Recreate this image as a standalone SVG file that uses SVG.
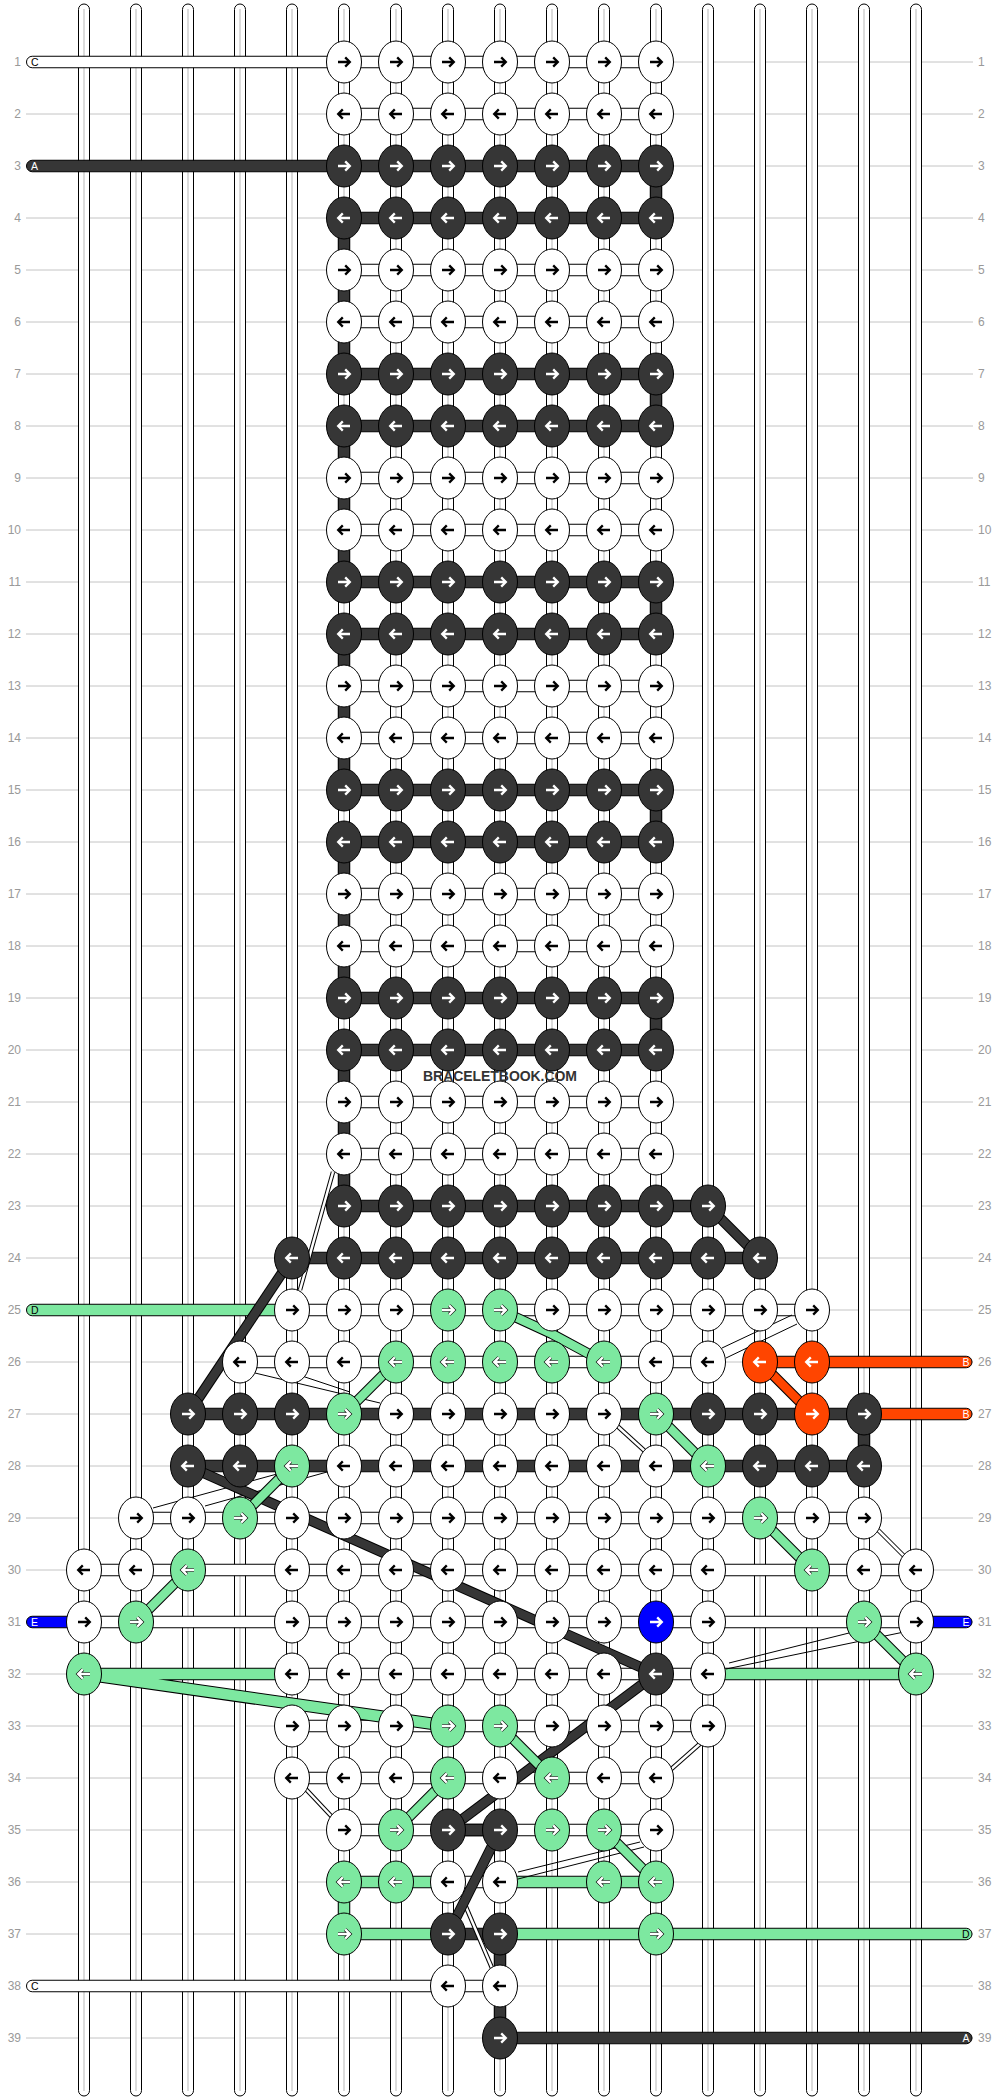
<svg xmlns="http://www.w3.org/2000/svg" width="1000" height="2100" viewBox="0 0 1000 2100">
<style>
.gl{stroke:#c4c4c4;stroke-width:1}
.s{fill:#fff;stroke:#000;stroke-width:1}
.sg{stroke:#c8c8c8;stroke-width:1.3}
.t{stroke:#000;stroke-width:1}
.w{fill:#fff}.d{fill:#363636}.gr{fill:#7de8a0}.o{fill:#ff4500}.b{fill:#0000ff}
.xo{stroke:#000;stroke-width:10.5;fill:none}
.xd{stroke:#363636;stroke-width:8.5;fill:none}
.xg{stroke:#7de8a0;stroke-width:8.5;fill:none}
.xr{stroke:#ff4500;stroke-width:8.5;fill:none}
.po{stroke:#000;stroke-width:12.5;fill:none;stroke-linejoin:round}
.pg{stroke:#7de8a0;stroke-width:10.5;fill:none;stroke-linejoin:round}
.thin{stroke:#000;stroke-width:1;fill:none}
.so{stroke:#000;stroke-width:4.5}
.sw{stroke:#fff;stroke-width:2.5}
.n{font-family:"Liberation Sans",Arial,sans-serif;font-size:12px;fill:#999}
.lab{font-family:"Liberation Sans",Arial,sans-serif;font-size:10.5px}
.wm{font-family:"Liberation Sans",Arial,sans-serif;font-size:14px;font-weight:bold;fill:#333}
</style>
<defs>
<path id="ar" d="M-6,0H5M1.2,-4.6L5.8,0L1.2,4.6" fill="none"/>
<path id="al" d="M6,0H-5M-1.2,-4.6L-5.8,0L-1.2,4.6" fill="none"/>
<g id="wR"><ellipse rx="17.5" ry="21" fill="#fff" stroke="#000"/><use href="#ar" stroke="#000" stroke-width="2.3"/></g>
<g id="wL"><ellipse rx="17.5" ry="21" fill="#fff" stroke="#000"/><use href="#al" stroke="#000" stroke-width="2.3"/></g>
<g id="dR"><ellipse rx="17.5" ry="21" fill="#363636" stroke="#000"/><use href="#ar" stroke="#fff" stroke-width="2.3"/></g>
<g id="dL"><ellipse rx="17.5" ry="21" fill="#363636" stroke="#000"/><use href="#al" stroke="#fff" stroke-width="2.3"/></g>
<g id="gR"><ellipse rx="17.5" ry="21" fill="#7de8a0" stroke="#000"/><use href="#ar" stroke="#000" stroke-width="3.6"/><use href="#ar" stroke="#fff" stroke-width="2.4"/></g>
<g id="gL"><ellipse rx="17.5" ry="21" fill="#7de8a0" stroke="#000"/><use href="#al" stroke="#000" stroke-width="3.6"/><use href="#al" stroke="#fff" stroke-width="2.4"/></g>
<g id="oR"><ellipse rx="17.5" ry="21" fill="#ff4500" stroke="#000"/><use href="#ar" stroke="#fff" stroke-width="2.3"/></g>
<g id="oL"><ellipse rx="17.5" ry="21" fill="#ff4500" stroke="#000"/><use href="#al" stroke="#fff" stroke-width="2.3"/></g>
<g id="bR"><ellipse rx="17.5" ry="21" fill="#0000ff" stroke="#000"/><use href="#ar" stroke="#fff" stroke-width="2.3"/></g>
</defs>
<rect width="1000" height="2100" fill="#fff"/>
<g id="grid">
<line class="gl" x1="26" y1="62" x2="973" y2="62"/><line class="gl" x1="26" y1="114" x2="973" y2="114"/><line class="gl" x1="26" y1="166" x2="973" y2="166"/><line class="gl" x1="26" y1="218" x2="973" y2="218"/><line class="gl" x1="26" y1="270" x2="973" y2="270"/><line class="gl" x1="26" y1="322" x2="973" y2="322"/><line class="gl" x1="26" y1="374" x2="973" y2="374"/><line class="gl" x1="26" y1="426" x2="973" y2="426"/><line class="gl" x1="26" y1="478" x2="973" y2="478"/><line class="gl" x1="26" y1="530" x2="973" y2="530"/><line class="gl" x1="26" y1="582" x2="973" y2="582"/><line class="gl" x1="26" y1="634" x2="973" y2="634"/><line class="gl" x1="26" y1="686" x2="973" y2="686"/><line class="gl" x1="26" y1="738" x2="973" y2="738"/><line class="gl" x1="26" y1="790" x2="973" y2="790"/><line class="gl" x1="26" y1="842" x2="973" y2="842"/><line class="gl" x1="26" y1="894" x2="973" y2="894"/><line class="gl" x1="26" y1="946" x2="973" y2="946"/><line class="gl" x1="26" y1="998" x2="973" y2="998"/><line class="gl" x1="26" y1="1050" x2="973" y2="1050"/><line class="gl" x1="26" y1="1102" x2="973" y2="1102"/><line class="gl" x1="26" y1="1154" x2="973" y2="1154"/><line class="gl" x1="26" y1="1206" x2="973" y2="1206"/><line class="gl" x1="26" y1="1258" x2="973" y2="1258"/><line class="gl" x1="26" y1="1310" x2="973" y2="1310"/><line class="gl" x1="26" y1="1362" x2="973" y2="1362"/><line class="gl" x1="26" y1="1414" x2="973" y2="1414"/><line class="gl" x1="26" y1="1466" x2="973" y2="1466"/><line class="gl" x1="26" y1="1518" x2="973" y2="1518"/><line class="gl" x1="26" y1="1570" x2="973" y2="1570"/><line class="gl" x1="26" y1="1622" x2="973" y2="1622"/><line class="gl" x1="26" y1="1674" x2="973" y2="1674"/><line class="gl" x1="26" y1="1726" x2="973" y2="1726"/><line class="gl" x1="26" y1="1778" x2="973" y2="1778"/><line class="gl" x1="26" y1="1830" x2="973" y2="1830"/><line class="gl" x1="26" y1="1882" x2="973" y2="1882"/><line class="gl" x1="26" y1="1934" x2="973" y2="1934"/><line class="gl" x1="26" y1="1986" x2="973" y2="1986"/><line class="gl" x1="26" y1="2038" x2="973" y2="2038"/>
</g>
<g id="rownumbers" class="n">
<text x="21" y="66" text-anchor="end">1</text><text x="21" y="118" text-anchor="end">2</text><text x="21" y="170" text-anchor="end">3</text><text x="21" y="222" text-anchor="end">4</text><text x="21" y="274" text-anchor="end">5</text><text x="21" y="326" text-anchor="end">6</text><text x="21" y="378" text-anchor="end">7</text><text x="21" y="430" text-anchor="end">8</text><text x="21" y="482" text-anchor="end">9</text><text x="21" y="534" text-anchor="end">10</text><text x="21" y="586" text-anchor="end">11</text><text x="21" y="638" text-anchor="end">12</text><text x="21" y="690" text-anchor="end">13</text><text x="21" y="742" text-anchor="end">14</text><text x="21" y="794" text-anchor="end">15</text><text x="21" y="846" text-anchor="end">16</text><text x="21" y="898" text-anchor="end">17</text><text x="21" y="950" text-anchor="end">18</text><text x="21" y="1002" text-anchor="end">19</text><text x="21" y="1054" text-anchor="end">20</text><text x="21" y="1106" text-anchor="end">21</text><text x="21" y="1158" text-anchor="end">22</text><text x="21" y="1210" text-anchor="end">23</text><text x="21" y="1262" text-anchor="end">24</text><text x="21" y="1314" text-anchor="end">25</text><text x="21" y="1366" text-anchor="end">26</text><text x="21" y="1418" text-anchor="end">27</text><text x="21" y="1470" text-anchor="end">28</text><text x="21" y="1522" text-anchor="end">29</text><text x="21" y="1574" text-anchor="end">30</text><text x="21" y="1626" text-anchor="end">31</text><text x="21" y="1678" text-anchor="end">32</text><text x="21" y="1730" text-anchor="end">33</text><text x="21" y="1782" text-anchor="end">34</text><text x="21" y="1834" text-anchor="end">35</text><text x="21" y="1886" text-anchor="end">36</text><text x="21" y="1938" text-anchor="end">37</text><text x="21" y="1990" text-anchor="end">38</text><text x="21" y="2042" text-anchor="end">39</text>
<text x="978" y="66">1</text><text x="978" y="118">2</text><text x="978" y="170">3</text><text x="978" y="222">4</text><text x="978" y="274">5</text><text x="978" y="326">6</text><text x="978" y="378">7</text><text x="978" y="430">8</text><text x="978" y="482">9</text><text x="978" y="534">10</text><text x="978" y="586">11</text><text x="978" y="638">12</text><text x="978" y="690">13</text><text x="978" y="742">14</text><text x="978" y="794">15</text><text x="978" y="846">16</text><text x="978" y="898">17</text><text x="978" y="950">18</text><text x="978" y="1002">19</text><text x="978" y="1054">20</text><text x="978" y="1106">21</text><text x="978" y="1158">22</text><text x="978" y="1210">23</text><text x="978" y="1262">24</text><text x="978" y="1314">25</text><text x="978" y="1366">26</text><text x="978" y="1418">27</text><text x="978" y="1470">28</text><text x="978" y="1522">29</text><text x="978" y="1574">30</text><text x="978" y="1626">31</text><text x="978" y="1678">32</text><text x="978" y="1730">33</text><text x="978" y="1782">34</text><text x="978" y="1834">35</text><text x="978" y="1886">36</text><text x="978" y="1938">37</text><text x="978" y="1990">38</text><text x="978" y="2042">39</text>
</g>
<g id="strands">
<rect class="s" x="78.5" y="4" width="11" height="2092" rx="5.5"/><line class="sg" x1="84" y1="9" x2="84" y2="2091"/>
<rect class="s" x="130.5" y="4" width="11" height="2092" rx="5.5"/><line class="sg" x1="136" y1="9" x2="136" y2="2091"/>
<rect class="s" x="182.5" y="4" width="11" height="2092" rx="5.5"/><line class="sg" x1="188" y1="9" x2="188" y2="2091"/>
<rect class="s" x="234.5" y="4" width="11" height="2092" rx="5.5"/><line class="sg" x1="240" y1="9" x2="240" y2="2091"/>
<rect class="s" x="286.5" y="4" width="11" height="2092" rx="5.5"/><line class="sg" x1="292" y1="9" x2="292" y2="2091"/>
<rect class="s" x="338.5" y="4" width="11" height="2092" rx="5.5"/><line class="sg" x1="344" y1="9" x2="344" y2="2091"/>
<rect class="s" x="390.5" y="4" width="11" height="2092" rx="5.5"/><line class="sg" x1="396" y1="9" x2="396" y2="2091"/>
<rect class="s" x="442.5" y="4" width="11" height="2092" rx="5.5"/><line class="sg" x1="448" y1="9" x2="448" y2="2091"/>
<rect class="s" x="494.5" y="4" width="11" height="2092" rx="5.5"/><line class="sg" x1="500" y1="9" x2="500" y2="2091"/>
<rect class="s" x="546.5" y="4" width="11" height="2092" rx="5.5"/><line class="sg" x1="552" y1="9" x2="552" y2="2091"/>
<rect class="s" x="598.5" y="4" width="11" height="2092" rx="5.5"/><line class="sg" x1="604" y1="9" x2="604" y2="2091"/>
<rect class="s" x="650.5" y="4" width="11" height="2092" rx="5.5"/><line class="sg" x1="656" y1="9" x2="656" y2="2091"/>
<rect class="s" x="702.5" y="4" width="11" height="2092" rx="5.5"/><line class="sg" x1="708" y1="9" x2="708" y2="2091"/>
<rect class="s" x="754.5" y="4" width="11" height="2092" rx="5.5"/><line class="sg" x1="760" y1="9" x2="760" y2="2091"/>
<rect class="s" x="806.5" y="4" width="11" height="2092" rx="5.5"/><line class="sg" x1="812" y1="9" x2="812" y2="2091"/>
<rect class="s" x="858.5" y="4" width="11" height="2092" rx="5.5"/><line class="sg" x1="864" y1="9" x2="864" y2="2091"/>
<rect class="s" x="910.5" y="4" width="11" height="2092" rx="5.5"/><line class="sg" x1="916" y1="9" x2="916" y2="2091"/>
</g>
<g id="connectors">
<rect class="t w" x="26.5" y="56.25" width="629.5" height="11.5" rx="5.75"/>
<rect class="t w" x="344" y="108.25" width="312" height="11.5"/>
<rect class="t d" x="26.5" y="160.25" width="629.5" height="11.5" rx="5.75"/>
<rect class="t d" x="344" y="212.25" width="312" height="11.5"/>
<rect class="t w" x="344" y="264.25" width="312" height="11.5"/>
<rect class="t w" x="344" y="316.25" width="312" height="11.5"/>
<rect class="t d" x="344" y="368.25" width="312" height="11.5"/>
<rect class="t d" x="344" y="420.25" width="312" height="11.5"/>
<rect class="t w" x="344" y="472.25" width="312" height="11.5"/>
<rect class="t w" x="344" y="524.25" width="312" height="11.5"/>
<rect class="t d" x="344" y="576.25" width="312" height="11.5"/>
<rect class="t d" x="344" y="628.25" width="312" height="11.5"/>
<rect class="t w" x="344" y="680.25" width="312" height="11.5"/>
<rect class="t w" x="344" y="732.25" width="312" height="11.5"/>
<rect class="t d" x="344" y="784.25" width="312" height="11.5"/>
<rect class="t d" x="344" y="836.25" width="312" height="11.5"/>
<rect class="t w" x="344" y="888.25" width="312" height="11.5"/>
<rect class="t w" x="344" y="940.25" width="312" height="11.5"/>
<rect class="t d" x="344" y="992.25" width="312" height="11.5"/>
<rect class="t d" x="344" y="1044.25" width="312" height="11.5"/>
<rect class="t w" x="344" y="1096.25" width="312" height="11.5"/>
<rect class="t w" x="344" y="1148.25" width="312" height="11.5"/>
<rect class="t d" x="344" y="1200.25" width="364" height="11.5"/>
<rect class="t d" x="292" y="1252.25" width="468" height="11.5"/>
<rect class="t gr" x="26.5" y="1304.25" width="265.5" height="11.5" rx="5.75"/>
<rect class="t w" x="292" y="1304.25" width="520" height="11.5"/>
<rect class="t w" x="240" y="1356.25" width="468" height="11.5"/>
<rect class="t o" x="760" y="1356.25" width="212" height="11.5" rx="5.75"/>
<rect class="t d" x="188" y="1408.25" width="676" height="11.5"/>
<rect class="t o" x="864" y="1408.25" width="108" height="11.5" rx="5.75"/>
<rect class="t d" x="188" y="1460.25" width="676" height="11.5"/>
<rect class="t w" x="136" y="1512.25" width="728" height="11.5"/>
<rect class="t w" x="84" y="1564.25" width="832" height="11.5"/>
<rect class="t b" x="26.5" y="1616.25" width="57.5" height="11.5" rx="5.75"/>
<rect class="t w" x="84" y="1616.25" width="832" height="11.5"/>
<rect class="t b" x="916" y="1616.25" width="56" height="11.5" rx="5.75"/>
<rect class="t w" x="292" y="1668.25" width="416" height="11.5"/>
<rect class="t gr" x="708" y="1668.25" width="208" height="11.5"/>
<rect class="t w" x="292" y="1720.25" width="416" height="11.5"/>
<rect class="t w" x="292" y="1772.25" width="364" height="11.5"/>
<rect class="t w" x="344" y="1824.25" width="312" height="11.5"/>
<rect class="t d" x="448" y="1824.25" width="52" height="11.5"/>
<rect class="t gr" x="344" y="1876.25" width="104" height="11.5"/>
<rect class="t w" x="448" y="1876.25" width="52" height="11.5"/>
<rect class="t gr" x="500" y="1876.25" width="156" height="11.5"/>
<rect class="t gr" x="344" y="1928.25" width="104" height="11.5"/>
<rect class="t d" x="448" y="1928.25" width="52" height="11.5"/>
<rect class="t gr" x="500" y="1928.25" width="472" height="11.5" rx="5.75"/>
<rect class="t w" x="26.5" y="1980.25" width="473.5" height="11.5" rx="5.75"/>
<rect class="t d" x="500" y="2032.25" width="472" height="11.5" rx="5.75"/>
<rect class="t d" x="650.25" y="166" width="11.5" height="52"/>
<rect class="t d" x="650.25" y="374" width="11.5" height="52"/>
<rect class="t d" x="650.25" y="582" width="11.5" height="52"/>
<rect class="t d" x="650.25" y="790" width="11.5" height="52"/>
<rect class="t d" x="650.25" y="998" width="11.5" height="52"/>
<rect class="t d" x="338.25" y="218" width="11.5" height="156"/>
<rect class="t d" x="338.25" y="426" width="11.5" height="156"/>
<rect class="t d" x="338.25" y="634" width="11.5" height="156"/>
<rect class="t d" x="338.25" y="842" width="11.5" height="156"/>
<rect class="t d" x="338.25" y="1050" width="11.5" height="156"/>
<rect class="t d" x="858.25" y="1414" width="11.5" height="52"/>
<rect class="t gr" x="338.25" y="1882" width="11.5" height="52"/>
<rect class="t d" x="494.25" y="1934" width="11.5" height="104"/>
<path class="po" d="M292,1674H84L448,1726"/><path class="pg" d="M292,1674H84L448,1726"/>
<line class="so" x1="333" y1="1172" x2="300" y2="1290"/><line class="sw" x1="333" y1="1172" x2="300" y2="1290"/>
<line class="so" x1="614" y1="1423" x2="648" y2="1454"/><line class="sw" x1="614" y1="1423" x2="648" y2="1454"/>
<line class="so" x1="878" y1="1530" x2="904" y2="1556"/><line class="sw" x1="878" y1="1530" x2="904" y2="1556"/>
<line class="so" x1="302" y1="1785" x2="333" y2="1818"/><line class="sw" x1="302" y1="1785" x2="333" y2="1818"/>
<line class="so" x1="702" y1="1742" x2="668" y2="1772"/><line class="sw" x1="702" y1="1742" x2="668" y2="1772"/>
<line class="so" x1="463" y1="1900" x2="492" y2="1968"/><line class="sw" x1="463" y1="1900" x2="492" y2="1968"/>
<line class="thin" x1="792" y1="1315" x2="722" y2="1348"/><line class="thin" x1="797" y1="1324" x2="726" y2="1358"/>
<line class="thin" x1="255" y1="1373" x2="380" y2="1403"/><line class="thin" x1="275" y1="1367" x2="350" y2="1392"/>
<line class="thin" x1="153" y1="1508" x2="277" y2="1474"/><line class="thin" x1="205" y1="1506" x2="327" y2="1472"/>
<line class="thin" x1="729" y1="1663" x2="853" y2="1632"/><line class="thin" x1="726" y1="1669" x2="904" y2="1632"/>
<line class="thin" x1="640" y1="1842" x2="518" y2="1872"/><line class="thin" x1="644" y1="1847" x2="518" y2="1879"/>
<line class="xo" x1="708" y1="1206" x2="760" y2="1258"/><line class="xd" x1="708" y1="1206" x2="760" y2="1258"/>
<line class="xo" x1="292" y1="1258" x2="188" y2="1414"/><line class="xd" x1="292" y1="1258" x2="188" y2="1414"/>
<line class="xo" x1="188" y1="1466" x2="656" y2="1674"/><line class="xd" x1="188" y1="1466" x2="656" y2="1674"/>
<line class="xo" x1="656" y1="1674" x2="448" y2="1830"/><line class="xd" x1="656" y1="1674" x2="448" y2="1830"/>
<line class="xo" x1="500" y1="1830" x2="448" y2="1934"/><line class="xd" x1="500" y1="1830" x2="448" y2="1934"/>
<polyline class="xo" points="500,1310 552,1334 604,1362"/><polyline class="xg" points="500,1310 552,1334 604,1362"/>
<line class="xo" x1="396" y1="1362" x2="344" y2="1414"/><line class="xg" x1="396" y1="1362" x2="344" y2="1414"/>
<line class="xo" x1="656" y1="1414" x2="708" y2="1466"/><line class="xg" x1="656" y1="1414" x2="708" y2="1466"/>
<line class="xo" x1="292" y1="1466" x2="240" y2="1518"/><line class="xg" x1="292" y1="1466" x2="240" y2="1518"/>
<line class="xo" x1="760" y1="1518" x2="812" y2="1570"/><line class="xg" x1="760" y1="1518" x2="812" y2="1570"/>
<line class="xo" x1="188" y1="1570" x2="136" y2="1622"/><line class="xg" x1="188" y1="1570" x2="136" y2="1622"/>
<line class="xo" x1="864" y1="1622" x2="916" y2="1674"/><line class="xg" x1="864" y1="1622" x2="916" y2="1674"/>
<line class="xo" x1="500" y1="1726" x2="552" y2="1778"/><line class="xg" x1="500" y1="1726" x2="552" y2="1778"/>
<line class="xo" x1="448" y1="1778" x2="396" y2="1830"/><line class="xg" x1="448" y1="1778" x2="396" y2="1830"/>
<line class="xo" x1="604" y1="1830" x2="656" y2="1882"/><line class="xg" x1="604" y1="1830" x2="656" y2="1882"/>
<line class="xo" x1="760" y1="1362" x2="812" y2="1414"/><line class="xr" x1="760" y1="1362" x2="812" y2="1414"/>
</g>
<g id="threadlabels" class="lab">
<text x="31" y="66">C</text>
<text x="31" y="170" fill="#fff">A</text>
<text x="31" y="1314">D</text>
<text x="31" y="1626" fill="#fff">E</text>
<text x="31" y="1990">C</text>
<text x="969.5" y="1366" text-anchor="end" fill="#fff">B</text>
<text x="969.5" y="1418" text-anchor="end" fill="#fff">B</text>
<text x="969.5" y="1626" text-anchor="end" fill="#fff">E</text>
<text x="969.5" y="1938" text-anchor="end">D</text>
<text x="969.5" y="2042" text-anchor="end" fill="#fff">A</text>
</g>
<g id="knots">
<g id="n1_5"><use href="#wR" x="344" y="62"/></g><g id="n1_6"><use href="#wR" x="396" y="62"/></g><g id="n1_7"><use href="#wR" x="448" y="62"/></g><g id="n1_8"><use href="#wR" x="500" y="62"/></g><g id="n1_9"><use href="#wR" x="552" y="62"/></g><g id="n1_10"><use href="#wR" x="604" y="62"/></g><g id="n1_11"><use href="#wR" x="656" y="62"/></g>
<g id="n2_5"><use href="#wL" x="344" y="114"/></g><g id="n2_6"><use href="#wL" x="396" y="114"/></g><g id="n2_7"><use href="#wL" x="448" y="114"/></g><g id="n2_8"><use href="#wL" x="500" y="114"/></g><g id="n2_9"><use href="#wL" x="552" y="114"/></g><g id="n2_10"><use href="#wL" x="604" y="114"/></g><g id="n2_11"><use href="#wL" x="656" y="114"/></g>
<g id="n3_5"><use href="#dR" x="344" y="166"/></g><g id="n3_6"><use href="#dR" x="396" y="166"/></g><g id="n3_7"><use href="#dR" x="448" y="166"/></g><g id="n3_8"><use href="#dR" x="500" y="166"/></g><g id="n3_9"><use href="#dR" x="552" y="166"/></g><g id="n3_10"><use href="#dR" x="604" y="166"/></g><g id="n3_11"><use href="#dR" x="656" y="166"/></g>
<g id="n4_5"><use href="#dL" x="344" y="218"/></g><g id="n4_6"><use href="#dL" x="396" y="218"/></g><g id="n4_7"><use href="#dL" x="448" y="218"/></g><g id="n4_8"><use href="#dL" x="500" y="218"/></g><g id="n4_9"><use href="#dL" x="552" y="218"/></g><g id="n4_10"><use href="#dL" x="604" y="218"/></g><g id="n4_11"><use href="#dL" x="656" y="218"/></g>
<g id="n5_5"><use href="#wR" x="344" y="270"/></g><g id="n5_6"><use href="#wR" x="396" y="270"/></g><g id="n5_7"><use href="#wR" x="448" y="270"/></g><g id="n5_8"><use href="#wR" x="500" y="270"/></g><g id="n5_9"><use href="#wR" x="552" y="270"/></g><g id="n5_10"><use href="#wR" x="604" y="270"/></g><g id="n5_11"><use href="#wR" x="656" y="270"/></g>
<g id="n6_5"><use href="#wL" x="344" y="322"/></g><g id="n6_6"><use href="#wL" x="396" y="322"/></g><g id="n6_7"><use href="#wL" x="448" y="322"/></g><g id="n6_8"><use href="#wL" x="500" y="322"/></g><g id="n6_9"><use href="#wL" x="552" y="322"/></g><g id="n6_10"><use href="#wL" x="604" y="322"/></g><g id="n6_11"><use href="#wL" x="656" y="322"/></g>
<g id="n7_5"><use href="#dR" x="344" y="374"/></g><g id="n7_6"><use href="#dR" x="396" y="374"/></g><g id="n7_7"><use href="#dR" x="448" y="374"/></g><g id="n7_8"><use href="#dR" x="500" y="374"/></g><g id="n7_9"><use href="#dR" x="552" y="374"/></g><g id="n7_10"><use href="#dR" x="604" y="374"/></g><g id="n7_11"><use href="#dR" x="656" y="374"/></g>
<g id="n8_5"><use href="#dL" x="344" y="426"/></g><g id="n8_6"><use href="#dL" x="396" y="426"/></g><g id="n8_7"><use href="#dL" x="448" y="426"/></g><g id="n8_8"><use href="#dL" x="500" y="426"/></g><g id="n8_9"><use href="#dL" x="552" y="426"/></g><g id="n8_10"><use href="#dL" x="604" y="426"/></g><g id="n8_11"><use href="#dL" x="656" y="426"/></g>
<g id="n9_5"><use href="#wR" x="344" y="478"/></g><g id="n9_6"><use href="#wR" x="396" y="478"/></g><g id="n9_7"><use href="#wR" x="448" y="478"/></g><g id="n9_8"><use href="#wR" x="500" y="478"/></g><g id="n9_9"><use href="#wR" x="552" y="478"/></g><g id="n9_10"><use href="#wR" x="604" y="478"/></g><g id="n9_11"><use href="#wR" x="656" y="478"/></g>
<g id="n10_5"><use href="#wL" x="344" y="530"/></g><g id="n10_6"><use href="#wL" x="396" y="530"/></g><g id="n10_7"><use href="#wL" x="448" y="530"/></g><g id="n10_8"><use href="#wL" x="500" y="530"/></g><g id="n10_9"><use href="#wL" x="552" y="530"/></g><g id="n10_10"><use href="#wL" x="604" y="530"/></g><g id="n10_11"><use href="#wL" x="656" y="530"/></g>
<g id="n11_5"><use href="#dR" x="344" y="582"/></g><g id="n11_6"><use href="#dR" x="396" y="582"/></g><g id="n11_7"><use href="#dR" x="448" y="582"/></g><g id="n11_8"><use href="#dR" x="500" y="582"/></g><g id="n11_9"><use href="#dR" x="552" y="582"/></g><g id="n11_10"><use href="#dR" x="604" y="582"/></g><g id="n11_11"><use href="#dR" x="656" y="582"/></g>
<g id="n12_5"><use href="#dL" x="344" y="634"/></g><g id="n12_6"><use href="#dL" x="396" y="634"/></g><g id="n12_7"><use href="#dL" x="448" y="634"/></g><g id="n12_8"><use href="#dL" x="500" y="634"/></g><g id="n12_9"><use href="#dL" x="552" y="634"/></g><g id="n12_10"><use href="#dL" x="604" y="634"/></g><g id="n12_11"><use href="#dL" x="656" y="634"/></g>
<g id="n13_5"><use href="#wR" x="344" y="686"/></g><g id="n13_6"><use href="#wR" x="396" y="686"/></g><g id="n13_7"><use href="#wR" x="448" y="686"/></g><g id="n13_8"><use href="#wR" x="500" y="686"/></g><g id="n13_9"><use href="#wR" x="552" y="686"/></g><g id="n13_10"><use href="#wR" x="604" y="686"/></g><g id="n13_11"><use href="#wR" x="656" y="686"/></g>
<g id="n14_5"><use href="#wL" x="344" y="738"/></g><g id="n14_6"><use href="#wL" x="396" y="738"/></g><g id="n14_7"><use href="#wL" x="448" y="738"/></g><g id="n14_8"><use href="#wL" x="500" y="738"/></g><g id="n14_9"><use href="#wL" x="552" y="738"/></g><g id="n14_10"><use href="#wL" x="604" y="738"/></g><g id="n14_11"><use href="#wL" x="656" y="738"/></g>
<g id="n15_5"><use href="#dR" x="344" y="790"/></g><g id="n15_6"><use href="#dR" x="396" y="790"/></g><g id="n15_7"><use href="#dR" x="448" y="790"/></g><g id="n15_8"><use href="#dR" x="500" y="790"/></g><g id="n15_9"><use href="#dR" x="552" y="790"/></g><g id="n15_10"><use href="#dR" x="604" y="790"/></g><g id="n15_11"><use href="#dR" x="656" y="790"/></g>
<g id="n16_5"><use href="#dL" x="344" y="842"/></g><g id="n16_6"><use href="#dL" x="396" y="842"/></g><g id="n16_7"><use href="#dL" x="448" y="842"/></g><g id="n16_8"><use href="#dL" x="500" y="842"/></g><g id="n16_9"><use href="#dL" x="552" y="842"/></g><g id="n16_10"><use href="#dL" x="604" y="842"/></g><g id="n16_11"><use href="#dL" x="656" y="842"/></g>
<g id="n17_5"><use href="#wR" x="344" y="894"/></g><g id="n17_6"><use href="#wR" x="396" y="894"/></g><g id="n17_7"><use href="#wR" x="448" y="894"/></g><g id="n17_8"><use href="#wR" x="500" y="894"/></g><g id="n17_9"><use href="#wR" x="552" y="894"/></g><g id="n17_10"><use href="#wR" x="604" y="894"/></g><g id="n17_11"><use href="#wR" x="656" y="894"/></g>
<g id="n18_5"><use href="#wL" x="344" y="946"/></g><g id="n18_6"><use href="#wL" x="396" y="946"/></g><g id="n18_7"><use href="#wL" x="448" y="946"/></g><g id="n18_8"><use href="#wL" x="500" y="946"/></g><g id="n18_9"><use href="#wL" x="552" y="946"/></g><g id="n18_10"><use href="#wL" x="604" y="946"/></g><g id="n18_11"><use href="#wL" x="656" y="946"/></g>
<g id="n19_5"><use href="#dR" x="344" y="998"/></g><g id="n19_6"><use href="#dR" x="396" y="998"/></g><g id="n19_7"><use href="#dR" x="448" y="998"/></g><g id="n19_8"><use href="#dR" x="500" y="998"/></g><g id="n19_9"><use href="#dR" x="552" y="998"/></g><g id="n19_10"><use href="#dR" x="604" y="998"/></g><g id="n19_11"><use href="#dR" x="656" y="998"/></g>
<g id="n20_5"><use href="#dL" x="344" y="1050"/></g><g id="n20_6"><use href="#dL" x="396" y="1050"/></g><g id="n20_7"><use href="#dL" x="448" y="1050"/></g><g id="n20_8"><use href="#dL" x="500" y="1050"/></g><g id="n20_9"><use href="#dL" x="552" y="1050"/></g><g id="n20_10"><use href="#dL" x="604" y="1050"/></g><g id="n20_11"><use href="#dL" x="656" y="1050"/></g>
<g id="n21_5"><use href="#wR" x="344" y="1102"/></g><g id="n21_6"><use href="#wR" x="396" y="1102"/></g><g id="n21_7"><use href="#wR" x="448" y="1102"/></g><g id="n21_8"><use href="#wR" x="500" y="1102"/></g><g id="n21_9"><use href="#wR" x="552" y="1102"/></g><g id="n21_10"><use href="#wR" x="604" y="1102"/></g><g id="n21_11"><use href="#wR" x="656" y="1102"/></g>
<g id="n22_5"><use href="#wL" x="344" y="1154"/></g><g id="n22_6"><use href="#wL" x="396" y="1154"/></g><g id="n22_7"><use href="#wL" x="448" y="1154"/></g><g id="n22_8"><use href="#wL" x="500" y="1154"/></g><g id="n22_9"><use href="#wL" x="552" y="1154"/></g><g id="n22_10"><use href="#wL" x="604" y="1154"/></g><g id="n22_11"><use href="#wL" x="656" y="1154"/></g>
<g id="n23_5"><use href="#dR" x="344" y="1206"/></g><g id="n23_6"><use href="#dR" x="396" y="1206"/></g><g id="n23_7"><use href="#dR" x="448" y="1206"/></g><g id="n23_8"><use href="#dR" x="500" y="1206"/></g><g id="n23_9"><use href="#dR" x="552" y="1206"/></g><g id="n23_10"><use href="#dR" x="604" y="1206"/></g><g id="n23_11"><use href="#dR" x="656" y="1206"/></g><g id="n23_12"><use href="#dR" x="708" y="1206"/></g>
<g id="n24_4"><use href="#dL" x="292" y="1258"/></g><g id="n24_5"><use href="#dL" x="344" y="1258"/></g><g id="n24_6"><use href="#dL" x="396" y="1258"/></g><g id="n24_7"><use href="#dL" x="448" y="1258"/></g><g id="n24_8"><use href="#dL" x="500" y="1258"/></g><g id="n24_9"><use href="#dL" x="552" y="1258"/></g><g id="n24_10"><use href="#dL" x="604" y="1258"/></g><g id="n24_11"><use href="#dL" x="656" y="1258"/></g><g id="n24_12"><use href="#dL" x="708" y="1258"/></g><g id="n24_13"><use href="#dL" x="760" y="1258"/></g>
<g id="n25_4"><use href="#wR" x="292" y="1310"/></g><g id="n25_5"><use href="#wR" x="344" y="1310"/></g><g id="n25_6"><use href="#wR" x="396" y="1310"/></g><g id="n25_7"><use href="#gR" x="448" y="1310"/></g><g id="n25_8"><use href="#gR" x="500" y="1310"/></g><g id="n25_9"><use href="#wR" x="552" y="1310"/></g><g id="n25_10"><use href="#wR" x="604" y="1310"/></g><g id="n25_11"><use href="#wR" x="656" y="1310"/></g><g id="n25_12"><use href="#wR" x="708" y="1310"/></g><g id="n25_13"><use href="#wR" x="760" y="1310"/></g><g id="n25_14"><use href="#wR" x="812" y="1310"/></g>
<g id="n26_3"><use href="#wL" x="240" y="1362"/></g><g id="n26_4"><use href="#wL" x="292" y="1362"/></g><g id="n26_5"><use href="#wL" x="344" y="1362"/></g><g id="n26_6"><use href="#gL" x="396" y="1362"/></g><g id="n26_7"><use href="#gL" x="448" y="1362"/></g><g id="n26_8"><use href="#gL" x="500" y="1362"/></g><g id="n26_9"><use href="#gL" x="552" y="1362"/></g><g id="n26_10"><use href="#gL" x="604" y="1362"/></g><g id="n26_11"><use href="#wL" x="656" y="1362"/></g><g id="n26_12"><use href="#wL" x="708" y="1362"/></g><g id="n26_13"><use href="#oL" x="760" y="1362"/></g><g id="n26_14"><use href="#oL" x="812" y="1362"/></g>
<g id="n27_2"><use href="#dR" x="188" y="1414"/></g><g id="n27_3"><use href="#dR" x="240" y="1414"/></g><g id="n27_4"><use href="#dR" x="292" y="1414"/></g><g id="n27_5"><use href="#gR" x="344" y="1414"/></g><g id="n27_6"><use href="#wR" x="396" y="1414"/></g><g id="n27_7"><use href="#wR" x="448" y="1414"/></g><g id="n27_8"><use href="#wR" x="500" y="1414"/></g><g id="n27_9"><use href="#wR" x="552" y="1414"/></g><g id="n27_10"><use href="#wR" x="604" y="1414"/></g><g id="n27_11"><use href="#gR" x="656" y="1414"/></g><g id="n27_12"><use href="#dR" x="708" y="1414"/></g><g id="n27_13"><use href="#dR" x="760" y="1414"/></g><g id="n27_14"><use href="#oR" x="812" y="1414"/></g><g id="n27_15"><use href="#dR" x="864" y="1414"/></g>
<g id="n28_2"><use href="#dL" x="188" y="1466"/></g><g id="n28_3"><use href="#dL" x="240" y="1466"/></g><g id="n28_4"><use href="#gL" x="292" y="1466"/></g><g id="n28_5"><use href="#wL" x="344" y="1466"/></g><g id="n28_6"><use href="#wL" x="396" y="1466"/></g><g id="n28_7"><use href="#wL" x="448" y="1466"/></g><g id="n28_8"><use href="#wL" x="500" y="1466"/></g><g id="n28_9"><use href="#wL" x="552" y="1466"/></g><g id="n28_10"><use href="#wL" x="604" y="1466"/></g><g id="n28_11"><use href="#wL" x="656" y="1466"/></g><g id="n28_12"><use href="#gL" x="708" y="1466"/></g><g id="n28_13"><use href="#dL" x="760" y="1466"/></g><g id="n28_14"><use href="#dL" x="812" y="1466"/></g><g id="n28_15"><use href="#dL" x="864" y="1466"/></g>
<g id="n29_1"><use href="#wR" x="136" y="1518"/></g><g id="n29_2"><use href="#wR" x="188" y="1518"/></g><g id="n29_3"><use href="#gR" x="240" y="1518"/></g><g id="n29_4"><use href="#wR" x="292" y="1518"/></g><g id="n29_5"><use href="#wR" x="344" y="1518"/></g><g id="n29_6"><use href="#wR" x="396" y="1518"/></g><g id="n29_7"><use href="#wR" x="448" y="1518"/></g><g id="n29_8"><use href="#wR" x="500" y="1518"/></g><g id="n29_9"><use href="#wR" x="552" y="1518"/></g><g id="n29_10"><use href="#wR" x="604" y="1518"/></g><g id="n29_11"><use href="#wR" x="656" y="1518"/></g><g id="n29_12"><use href="#wR" x="708" y="1518"/></g><g id="n29_13"><use href="#gR" x="760" y="1518"/></g><g id="n29_14"><use href="#wR" x="812" y="1518"/></g><g id="n29_15"><use href="#wR" x="864" y="1518"/></g>
<g id="n30_0"><use href="#wL" x="84" y="1570"/></g><g id="n30_1"><use href="#wL" x="136" y="1570"/></g><g id="n30_2"><use href="#gL" x="188" y="1570"/></g><g id="n30_4"><use href="#wL" x="292" y="1570"/></g><g id="n30_5"><use href="#wL" x="344" y="1570"/></g><g id="n30_6"><use href="#wL" x="396" y="1570"/></g><g id="n30_7"><use href="#wL" x="448" y="1570"/></g><g id="n30_8"><use href="#wL" x="500" y="1570"/></g><g id="n30_9"><use href="#wL" x="552" y="1570"/></g><g id="n30_10"><use href="#wL" x="604" y="1570"/></g><g id="n30_11"><use href="#wL" x="656" y="1570"/></g><g id="n30_12"><use href="#wL" x="708" y="1570"/></g><g id="n30_14"><use href="#gL" x="812" y="1570"/></g><g id="n30_15"><use href="#wL" x="864" y="1570"/></g><g id="n30_16"><use href="#wL" x="916" y="1570"/></g>
<g id="n31_0"><use href="#wR" x="84" y="1622"/></g><g id="n31_1"><use href="#gR" x="136" y="1622"/></g><g id="n31_4"><use href="#wR" x="292" y="1622"/></g><g id="n31_5"><use href="#wR" x="344" y="1622"/></g><g id="n31_6"><use href="#wR" x="396" y="1622"/></g><g id="n31_7"><use href="#wR" x="448" y="1622"/></g><g id="n31_8"><use href="#wR" x="500" y="1622"/></g><g id="n31_9"><use href="#wR" x="552" y="1622"/></g><g id="n31_10"><use href="#wR" x="604" y="1622"/></g><g id="n31_11"><use href="#bR" x="656" y="1622"/></g><g id="n31_12"><use href="#wR" x="708" y="1622"/></g><g id="n31_15"><use href="#gR" x="864" y="1622"/></g><g id="n31_16"><use href="#wR" x="916" y="1622"/></g>
<g id="n32_0"><use href="#gL" x="84" y="1674"/></g><g id="n32_4"><use href="#wL" x="292" y="1674"/></g><g id="n32_5"><use href="#wL" x="344" y="1674"/></g><g id="n32_6"><use href="#wL" x="396" y="1674"/></g><g id="n32_7"><use href="#wL" x="448" y="1674"/></g><g id="n32_8"><use href="#wL" x="500" y="1674"/></g><g id="n32_9"><use href="#wL" x="552" y="1674"/></g><g id="n32_10"><use href="#wL" x="604" y="1674"/></g><g id="n32_11"><use href="#dL" x="656" y="1674"/></g><g id="n32_12"><use href="#wL" x="708" y="1674"/></g><g id="n32_16"><use href="#gL" x="916" y="1674"/></g>
<g id="n33_4"><use href="#wR" x="292" y="1726"/></g><g id="n33_5"><use href="#wR" x="344" y="1726"/></g><g id="n33_6"><use href="#wR" x="396" y="1726"/></g><g id="n33_7"><use href="#gR" x="448" y="1726"/></g><g id="n33_8"><use href="#gR" x="500" y="1726"/></g><g id="n33_9"><use href="#wR" x="552" y="1726"/></g><g id="n33_10"><use href="#wR" x="604" y="1726"/></g><g id="n33_11"><use href="#wR" x="656" y="1726"/></g><g id="n33_12"><use href="#wR" x="708" y="1726"/></g>
<g id="n34_4"><use href="#wL" x="292" y="1778"/></g><g id="n34_5"><use href="#wL" x="344" y="1778"/></g><g id="n34_6"><use href="#wL" x="396" y="1778"/></g><g id="n34_7"><use href="#gL" x="448" y="1778"/></g><g id="n34_8"><use href="#wL" x="500" y="1778"/></g><g id="n34_9"><use href="#gL" x="552" y="1778"/></g><g id="n34_10"><use href="#wL" x="604" y="1778"/></g><g id="n34_11"><use href="#wL" x="656" y="1778"/></g>
<g id="n35_5"><use href="#wR" x="344" y="1830"/></g><g id="n35_6"><use href="#gR" x="396" y="1830"/></g><g id="n35_7"><use href="#dR" x="448" y="1830"/></g><g id="n35_8"><use href="#dR" x="500" y="1830"/></g><g id="n35_9"><use href="#gR" x="552" y="1830"/></g><g id="n35_10"><use href="#gR" x="604" y="1830"/></g><g id="n35_11"><use href="#wR" x="656" y="1830"/></g>
<g id="n36_5"><use href="#gL" x="344" y="1882"/></g><g id="n36_6"><use href="#gL" x="396" y="1882"/></g><g id="n36_7"><use href="#wL" x="448" y="1882"/></g><g id="n36_8"><use href="#wL" x="500" y="1882"/></g><g id="n36_10"><use href="#gL" x="604" y="1882"/></g><g id="n36_11"><use href="#gL" x="656" y="1882"/></g>
<g id="n37_5"><use href="#gR" x="344" y="1934"/></g><g id="n37_7"><use href="#dR" x="448" y="1934"/></g><g id="n37_8"><use href="#dR" x="500" y="1934"/></g><g id="n37_11"><use href="#gR" x="656" y="1934"/></g>
<g id="n38_7"><use href="#wL" x="448" y="1986"/></g><g id="n38_8"><use href="#wL" x="500" y="1986"/></g>
<g id="n39_8"><use href="#dR" x="500" y="2038"/></g>
</g>
<text class="wm" x="500" y="1081" text-anchor="middle" textLength="154">BRACELETBOOK.COM</text>
</svg>
